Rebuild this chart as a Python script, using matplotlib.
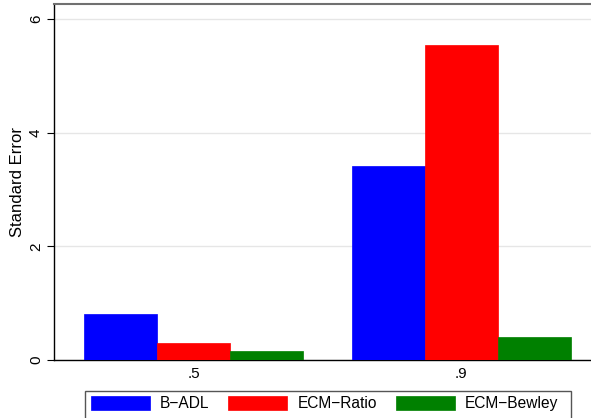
import numpy as np
import matplotlib
matplotlib.use("Agg")
import matplotlib.pyplot as plt
from matplotlib.patches import Rectangle

plt.rcParams['font.family'] = ['Liberation Sans', 'DejaVu Sans']

# data
groups = ['.5', '.9']
series = ['B\u2212ADL', 'ECM\u2212Ratio', 'ECM\u2212Bewley']
b_adl = [0.81, 3.41]
ecm_ratio = [0.30, 5.54]
ecm_bewley = [0.16, 0.40]
colors = ['#0000ff', '#ff0000', '#008000']

W, H = 591, 418
fig = plt.figure(figsize=(W / 100, H / 100), dpi=100)
# plot region in pixels: left 54, right ~601 (cropped), bottom 360, top 4
ax = fig.add_axes([54 / W, (H - 360) / H, (601 - 54) / W, (360 - 4) / H])

x = np.arange(len(groups))
w = 0.273
for i, (vals, c, lab) in enumerate(zip([b_adl, ecm_ratio, ecm_bewley], colors, series)):
    ax.bar(x + (i - 1) * w, vals, width=w, color=c, edgecolor=c, lw=0.5,
           label=lab, zorder=3)

ax.set_xlim(-0.522, 1.522)
ax.set_ylim(0, 6.26)
ax.set_yticks([0, 2, 4, 6])
ax.set_yticklabels(['0', '2', '4', '6'], rotation=90, va='center')
ax.set_xticks(x)
ax.set_xticklabels(groups)
ax.tick_params(axis='y', length=5, width=0.8, pad=3, labelsize=11)
ax.tick_params(axis='x', length=0, pad=5, labelsize=11)
ax.grid(axis='y', color='#e6e6e6', lw=1, zorder=0)
ax.set_ylabel('Standard Error', fontsize=12, labelpad=3)

ax.spines['right'].set_visible(False)
ax.spines['top'].set_color('#707070')
ax.spines['top'].set_linewidth(1.5)
ax.spines['left'].set_linewidth(1)
ax.spines['bottom'].set_linewidth(1)

# legend frame drawn separately, it runs off the bottom of the image
fig.patches.append(Rectangle((85 / W, -0.05), (571 - 85) / W, (H - 391) / H + 0.05,
                             transform=fig.transFigure, fill=False,
                             edgecolor='#555555', lw=1))
fig.legend(loc='upper left', bbox_to_anchor=(91 / W, (H - 396) / H), ncol=3,
           frameon=False, fontsize=11.2, handlelength=3.8, handleheight=1.0,
           handletextpad=0.65, columnspacing=1.2, borderpad=0, borderaxespad=0)

fig.savefig('out.png', dpi=100)
